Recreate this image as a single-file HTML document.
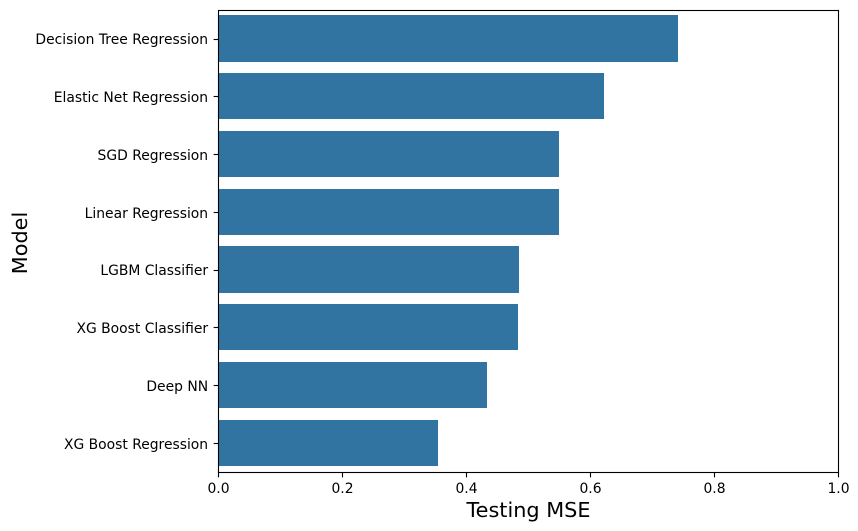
<!DOCTYPE html>
<html>
<head>
<meta charset="utf-8">
<style>
html,body{margin:0;padding:0;background:#fff;}
svg{display:block;}
text{font-family:"DejaVu Sans",sans-serif;fill:#000;}
</style>
</head>
<body>
<svg id="chart" xmlns="http://www.w3.org/2000/svg" width="858" height="531" viewBox="0 0 858 531">
<rect x="0" y="0" width="858" height="531" fill="#fff"/>
<g id="bars"></g>
<g id="y-ticks"></g>
<g id="x-ticks"></g>
<rect x="218.5" y="10.5" width="620" height="462" fill="none" stroke="#000" stroke-width="1.11"/>
<text x="528.5" y="517" font-size="20.8" text-anchor="middle">Testing MSE</text>
<text transform="translate(27,243) rotate(-90)" font-size="20.8" text-anchor="middle">Model</text>
</svg>
<script>
const categories = ["Decision Tree Regression","Elastic Net Regression","SGD Regression","Linear Regression","LGBM Classifier","XG Boost Classifier","Deep NN","XG Boost Regression"];
const mseValues = [0.741,0.622,0.549,0.549,0.485,0.483,0.433,0.354];
const xTickValues = [0,0.2,0.4,0.6,0.8,1.0];
const xTickLabels = ["0.0","0.2","0.4","0.6","0.8","1.0"];

const NS = "http://www.w3.org/2000/svg";
const plotLeft = 218.5, plotWidth = 620, plotBottom = 472.5;
const bandSize = 57.75, firstCenter = 38.5;
const xScale = function(v){ return plotLeft + v * plotWidth; };
const yScale = function(i){ return firstCenter + i * bandSize; };
const barsGroup = document.getElementById("bars");
const yGroup = document.getElementById("y-ticks");
const xGroup = document.getElementById("x-ticks");

categories.forEach(function(name, i){
  const cy = yScale(i);
  const barTop = Math.round(cy - 23.1);
  const barBottom = Math.round(cy + 23.1);
  const barRight = Math.round(xScale(mseValues[i]));
  const bar = document.createElementNS(NS, "rect");
  
  
  bar.setAttribute("x", 218);
  bar.setAttribute("y", barTop);
  bar.setAttribute("width", barRight - 218);
  bar.setAttribute("height", barBottom - barTop);
  bar.setAttribute("fill", "#3274a1");
  barsGroup.appendChild(bar);

  const tickY = Math.floor(cy + 0.5) + 0.5;
  const tick = document.createElementNS(NS, "line");
  
  
  tick.setAttribute("x1", plotLeft - 4.86);
  tick.setAttribute("x2", plotLeft);
  tick.setAttribute("y1", tickY);
  tick.setAttribute("y2", tickY);
  tick.setAttribute("stroke", "#000");
  tick.setAttribute("stroke-width", "1.11");
  yGroup.appendChild(tick);

  const label = document.createElementNS(NS, "text");
  
  
  label.setAttribute("x", plotLeft - 10.4);
  label.setAttribute("y", Math.round(cy + 5.9));
  label.setAttribute("font-size", "13.89");
  label.setAttribute("text-anchor", "end");
  label.textContent = name;
  yGroup.appendChild(label);
});

xTickValues.forEach(function(v, i){
  const x = xScale(v);
  const tick = document.createElementNS(NS, "line");
  
  
  tick.setAttribute("x1", x);
  tick.setAttribute("x2", x);
  tick.setAttribute("y1", plotBottom);
  tick.setAttribute("y2", plotBottom + 4.86);
  tick.setAttribute("stroke", "#000");
  tick.setAttribute("stroke-width", "1.11");
  xGroup.appendChild(tick);

  const label = document.createElementNS(NS, "text");
  
  
  label.setAttribute("x", x);
  label.setAttribute("y", 493);
  label.setAttribute("font-size", "13.89");
  label.setAttribute("text-anchor", "middle");
  label.textContent = xTickLabels[i];
  xGroup.appendChild(label);
});
</script>
</body>
</html>
